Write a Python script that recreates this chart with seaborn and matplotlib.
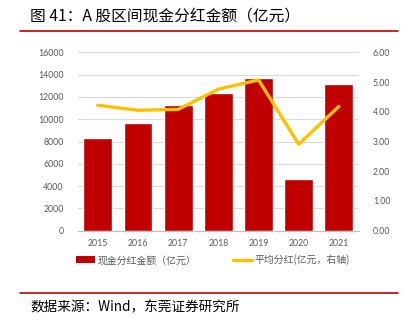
import matplotlib
matplotlib.use("Agg")
import matplotlib.pyplot as plt
import seaborn as sns
import pandas as pd
from matplotlib.lines import Line2D
from matplotlib.patches import Patch

# Annual cash dividends of A-share companies
years = ["2015", "2016", "2017", "2018", "2019", "2020", "2021"]
cash_dividend = [8290, 9690, 11270, 12350, 13670, 4610, 13160]   # 亿元
avg_dividend = [4.22, 4.05, 4.08, 4.76, 5.07, 2.91, 4.18]        # 亿元, right axis
left_ticks = [0, 2000, 4000, 6000, 8000, 10000, 12000, 14000, 16000]
right_ticks = [0, 1, 2, 3, 4, 5, 6]

sns.set_theme(style="white")
plt.rcParams["font.family"] = ["Noto Sans CJK SC", "DejaVu Sans"]

df = pd.DataFrame({"year": years, "cash": cash_dividend, "avg": avg_dividend})

fig = plt.figure(figsize=(4.10, 3.22), dpi=100)
ax = fig.add_axes([77.7 / 410, 1 - 230.7 / 322, (359 - 77.7) / 410, (230.7 - 52.3) / 322])

bar_color = "#C00000"
line_color = "#FFC000"
grey = "#595959"

sns.barplot(data=df, x="year", y="cash", color=bar_color, width=0.72,
            saturation=1, ax=ax, zorder=2)
ax.set_ylim(0, 16000)
ax.set_yticks(left_ticks)
ax.set_yticklabels([str(t) for t in left_ticks], fontfamily="Lato", fontsize=6.3, color=grey)
ax.grid(axis="y", color="#D9D9D9", linewidth=0.8, zorder=0)
ax.set_axisbelow(True)
ax.set_xlabel("")
ax.set_ylabel("")
ax.set_xlim(-0.5, len(years) - 0.5)
ax.set_xticks(range(len(years)))
ax.set_xticklabels(years, fontfamily="Lato", fontsize=6.3, color=grey)
ax.set_xticks([i - 0.5 for i in range(len(years) + 1)], minor=True)
ax.tick_params(axis="x", which="major", length=0, pad=6)
ax.tick_params(axis="x", which="minor", length=3, color="#BFBFBF", width=0.8, direction="out")
ax.tick_params(axis="y", length=0, pad=10)
for s in ["top", "right", "left"]:
    ax.spines[s].set_visible(False)
ax.spines["bottom"].set_color("#BFBFBF")
ax.spines["bottom"].set_linewidth(0.8)

ax2 = ax.twinx()
sns.lineplot(x=list(range(len(years))), y=avg_dividend, color=line_color,
             linewidth=2.4, ax=ax2, zorder=3)
ax2.set_ylim(0, 6)
ax2.set_yticks(right_ticks)
ax2.set_yticklabels([f"{t:.2f}" for t in right_ticks], fontfamily="Lato", fontsize=6.3, color=grey)
ax2.tick_params(axis="y", length=0, pad=10)
ax2.set_ylabel("")
for s in ["top", "right", "left", "bottom"]:
    ax2.spines[s].set_visible(False)

handles = [Patch(facecolor=bar_color, edgecolor="none"),
           Line2D([0], [0], color=line_color, linewidth=2.4)]
labels = ["现金分红金额（亿元）", "平均分红(亿元，右轴)"]
fig.legend(handles, labels, loc="center", bbox_to_anchor=(213 / 410, 1 - 260 / 322),
           ncol=2, frameon=False, fontsize=7.1, handlelength=1.9, handleheight=0.7,
           columnspacing=3.7, handletextpad=0.3, labelcolor=grey)

# Title and source with red rules
fig.text(30 / 410, 1 - 16 / 322, "图 41：A 股区间现金分红金额（亿元）", fontsize=11.3,
         color="black", va="center", ha="left")
fig.add_artist(Line2D([20 / 410, 398 / 410], [1 - 30.7 / 322] * 2, color="#C00000",
                      linewidth=1.2, transform=fig.transFigure))
fig.add_artist(Line2D([20 / 410, 398 / 410], [1 - 293 / 322] * 2, color="#C00000",
                      linewidth=1.2, transform=fig.transFigure))
fig.text(30 / 410, 1 - 307 / 322, "数据来源：Wind，东莞证券研究所", fontsize=9.8,
         color="black", va="center", ha="left")

fig.savefig("out.png", dpi=100)
